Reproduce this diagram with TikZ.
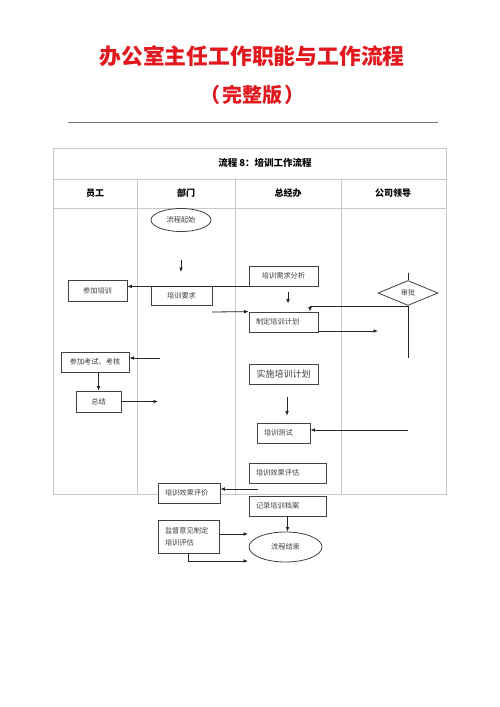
\documentclass[tikz,border=0pt]{standalone}
\usepackage{fontspec}
\setmainfont{Noto Sans CJK SC}
\usetikzlibrary{shapes.geometric,arrows.meta}
\definecolor{titlered}{RGB}{225,25,30}
\definecolor{tblgray}{RGB}{200,200,200}
\begin{document}
\begin{tikzpicture}[x=1pt,y=-1pt,
  titletext/.style={font=\bfseries\fontsize{21.8}{24}\selectfont, text=titlered, inner sep=0},
  hdr/.style={font=\bfseries\fontsize{9}{11}\selectfont, text=black, inner sep=0},
  tbl/.style={draw=tblgray, line width=0.8pt},
  box/.style={draw=black!75, line width=0.8pt, fill=white, inner sep=0,
    font=\fontsize{7.2}{9}\selectfont, text=black!75},
  lbox/.style={box, align=left, inner xsep=7pt},
  oval/.style={box, ellipse},
  arr/.style={draw=black!85, line width=0.8pt, -{Latex[length=4.5pt,width=3.8pt]}},
  ln/.style={draw=black!85, line width=0.8pt}
]
\useasboundingbox[fill=white] (0,0) rectangle (500,707);

% titles
\node[titletext] (t1) at (252,56) {办公室主任工作职能与工作流程};
\node[titletext, font=\bfseries\fontsize{20}{24}\selectfont] (t2) at (252,95) {（\hspace{2pt}完整版\hspace{2pt}）};
\draw[draw=black!55, line width=1pt] (68,122) -- (438,122);

% table
\draw[tbl] (53,148) rectangle (446,494);
\draw[tbl] (53,179) -- (446,179);
\draw[tbl] (53,208) -- (446,208);
\draw[tbl] (137,179) -- (137,494);
\draw[tbl] (235,179) -- (235,494);
\draw[tbl] (341,179) -- (341,494);
\node[hdr, font=\bfseries\fontsize{9.5}{11}\selectfont] (tt) at (265,163) {流程 8：培训工作流程};
\node[hdr] (h1) at (95,193) {员工};
\node[hdr] (h2) at (186,193) {部门};
\node[hdr] (h3) at (288,193) {总经办};
\node[hdr] (h4) at (393,193) {公司领导};

% nodes
\node[oval, minimum width=60pt, minimum height=23pt] (qs) at (181,220) {流程起始};
\node[box, minimum width=59pt, minimum height=21pt] (cj) at (97.5,290.5) {参加培训};
\node[box, minimum width=61pt, minimum height=19pt] (yq) at (181.5,295.5) {培训要求};
\node[box, minimum width=69pt, minimum height=20pt] (xq) at (283.5,276) {培训需求分析};
\node[lbox, text width=55pt, minimum height=20pt] (zd) at (283.5,322) {制定培训计划};
\node[box, diamond, minimum width=60pt, minimum height=25pt] (sp) at (408,293) {审批};
\node[box, minimum width=68pt, minimum height=20pt] (ks) at (95,362) {参加考试、考核};
\node[box, minimum width=45pt, minimum height=21pt] (zj) at (98.5,401.5) {总结};
\node[box, minimum width=69pt, minimum height=20pt, font=\fontsize{9}{11}\selectfont] (ss) at (283.5,374) {实施培训计划};
\node[lbox, text width=39pt, minimum height=20pt] (cs) at (283.5,433) {培训测试};
\node[lbox, text width=63pt, minimum height=20pt] (pg) at (287.5,473) {培训效果评估};
\node[lbox, text width=48pt, minimum height=20pt] (pj) at (189,493) {培训效果评价};
\node[lbox, text width=63pt, minimum height=20pt] (jl) at (287.5,506) {记录培训档案};
\node[lbox, text width=47pt, minimum height=33pt, font=\fontsize{7.2}{12}\selectfont] (jd) at (188.5,536.5) {监督意见制定\\培训评估};
\node[oval, minimum width=73pt, minimum height=30pt] (js) at (285.5,547) {流程结束};
\node[font=\fontsize{5}{6}\selectfont, text=black!50, inner sep=0] (dot) at (69,657) {.};

% free ends
\coordinate (a1s) at (181,260);
\coordinate (a1e) at (181,272);
\coordinate (a2s) at (212,312);
\coordinate (a3e) at (378,331);
\coordinate (spend) at (408,358);
\coordinate (a4s) at (160,358);
\coordinate (a5e) at (158,401.5);
\coordinate (a6s) at (408,430);
\coordinate (a7s) at (258,489);
\coordinate (a8e) at (248,534);
\coordinate (a9e) at (248,561);

% connectors
\draw[arr] (a1s) -- (a1e);
\draw[arr] (xq.south west) -- (xq.south west -| cj.east);
\draw[arr] (a2s) -- (zd.north west);
\draw[arr, shorten <=6pt, shorten >=8pt] ([xshift=4.5pt]xq.south) -- ([xshift=4.5pt]zd.north);
\draw[ln] (sp.north) -- ++(0,-7);
\draw[arr] (sp.south) -| ([xshift=26.5pt]zd.north);
\draw[ln] (sp.south) -- (spend);
\draw[arr] (zd.east |- a3e) -- (a3e);
\draw[arr] (a4s) -- (a4s -| ks.east);
\draw[arr] (ks.south -| zj.north) -- (zj.north);
\draw[arr] (zj.east) -- (a5e);
\draw[arr, shorten <=13pt, shorten >=7pt] ([xshift=3.5pt]ss.south) -- ([xshift=3.5pt]cs.north);
\draw[arr] (a6s) -- (a6s -| cs.east);
\draw[arr] (a7s) -- (a7s -| pj.east);
\draw[arr] (jl.south) -- (jl.south |- js.north);
\draw[arr] (jd.east |- a8e) -- (a8e);
\draw[arr] (jd.south) |- (a9e);
\end{tikzpicture}
\end{document}
